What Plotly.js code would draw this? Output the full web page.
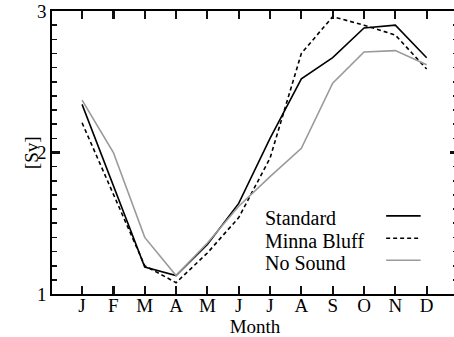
<!DOCTYPE html>
<html>
<head>
<meta charset="utf-8">
<script src="https://cdn.plot.ly/plotly-3.0.1.min.js"></script>
<style>
html,body{margin:0;padding:0;overflow:hidden;background:#fff;}
#chart{width:460px;height:337px;}
</style>
</head>
<body>
<div id="chart"></div>
<script>
const months = ['Jan','Feb','Mar','Apr','May','Jun','Jul','Aug','Sep','Oct','Nov','Dec'];
const monthLabels = ['J','F','M','A','M','J','J','A','S','O','N','D'];
const standard   = [2.34, 1.76, 1.19, 1.13, 1.35, 1.64, 2.10, 2.52, 2.67, 2.88, 2.90, 2.67];
const minnaBluff = [2.21, 1.71, 1.20, 1.08, 1.29, 1.54, 1.96, 2.70, 2.96, 2.90, 2.83, 2.59];
const noSound    = [2.37, 2.00, 1.40, 1.13, 1.36, 1.62, 1.83, 2.03, 2.49, 2.71, 2.72, 2.62];
const seriesNames = ['Standard', 'Minna Bluff', 'No Sound'];

const styles = [
  {color:'#000000', width:1.6, dash:'solid'},
  {color:'#000000', width:1.6, dash:'4px,3px'},
  {color:'#9a9a9a', width:1.6, dash:'solid'}
];
const seriesData = [standard, minnaBluff, noSound];
const font = {family:'"Liberation Serif", "Times New Roman", serif', size:19, color:'#000'};
const legendFont = {family:font.family, size:20, color:'#000'};

const traces = seriesData.map((ys, i) => ({
  x: months, y: ys, type:'scatter', mode:'lines',
  name: seriesNames[i], line: styles[i], showlegend:false, hoverinfo:'skip'
}));

// legend (text left, line sample right)
const legendTextX = 0.52, legendLineX0 = 0.823, legendLineX1 = 0.908;
const legendY = [0.268, 0.189, 0.111];
const annotations = seriesNames.map((n, i) => ({
  xref:'paper', yref:'paper', x:legendTextX, y:legendY[i], xanchor:'left', yanchor:'middle',
  text:n, showarrow:false, font:legendFont
}));
annotations.push({
  xref:'paper', yref:'paper', x:-0.05, y:0.5, xanchor:'center', yanchor:'middle',
  text:'[Sv]', textangle:-90, showarrow:false, font:font
});
const shapes = seriesNames.map((n, i) => ({
  type:'line', xref:'paper', yref:'paper', x0:legendLineX0, x1:legendLineX1,
  y0:legendY[i]+0.008, y1:legendY[i]+0.008, line:styles[i]
}));

const layout = {
  width:460, height:337,
  margin:{l:52, r:2, t:11, b:43},
  paper_bgcolor:'#fff', plot_bgcolor:'#fff',
  font:font,
  showlegend:false,
  xaxis:{
    type:'category', range:[-0.96, 12],
    tickvals:months, ticktext:monthLabels,
    ticks:'inside', ticklen:8, tickwidth:2.2, tickcolor:'#111111',
    ticklabelstandoff:-6,
    showline:true, linecolor:'#000', linewidth:1.6, mirror:'ticks',
    showgrid:false, zeroline:false,
    title:{text:'Month', font:font, standoff:0},
    tickfont:font
  },
  yaxis:{
    range:[1, 3], tickmode:'linear', tick0:1, dtick:1,
    ticks:'inside', ticklen:8, tickwidth:2.2, tickcolor:'#111111',
    minor:{ticks:'inside', ticklen:5, dtick:0.1, tickcolor:'#111111', tickwidth:1.6},
    showline:true, linecolor:'#000', linewidth:1.6, mirror:'ticks',
    showgrid:false, zeroline:false,
    tickfont:font
  },
  annotations:annotations,
  shapes:shapes
};

Plotly.newPlot('chart', traces, layout, {staticPlot:true, displayModeBar:false});
</script>
</body>
</html>
